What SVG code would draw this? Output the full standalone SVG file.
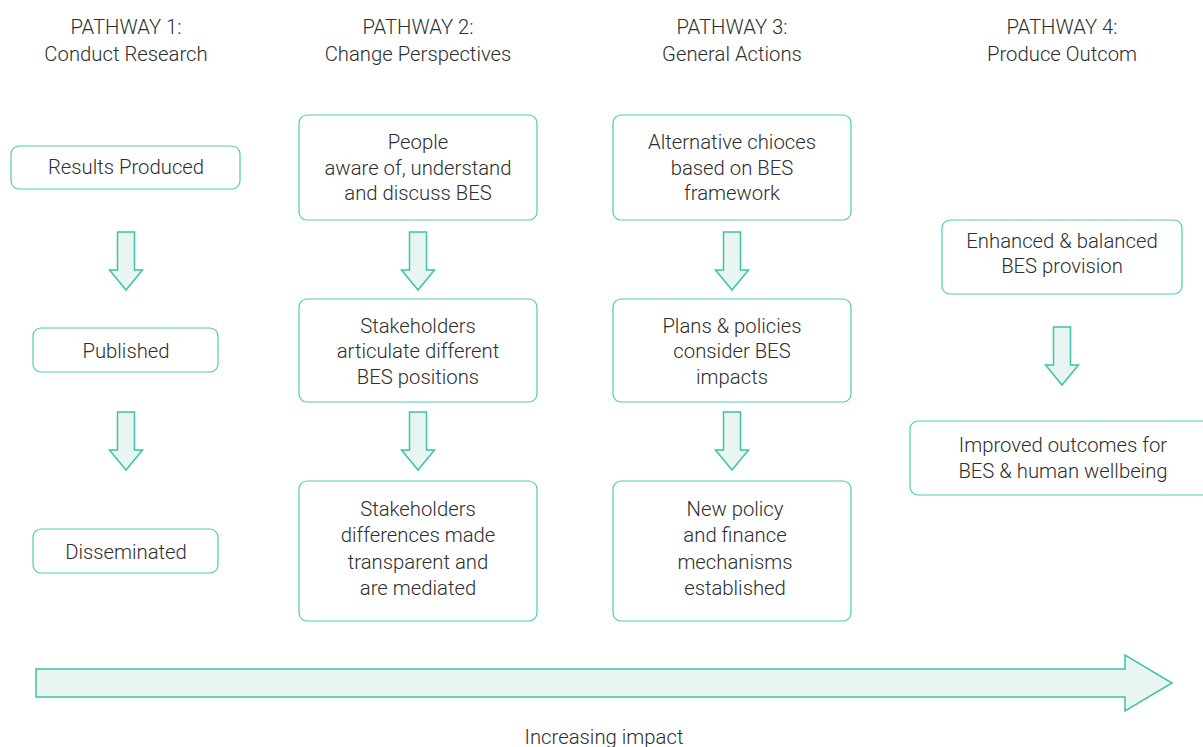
<svg xmlns="http://www.w3.org/2000/svg" width="1203" height="747" viewBox="0 0 1203 747">
<style>
text{font-family:Roboto,"Liberation Sans",sans-serif;font-weight:300;font-size:20.3px;fill:#2e2e2e;text-anchor:middle;transform:translateY(1px)}
.box{fill:#fff;stroke:#4fcbb2;stroke-width:1.2}
.arr{fill:#e8f5f0;stroke:#3cc4a8;stroke-width:1.5;stroke-linejoin:miter}
</style>
<defs>
<path id="down" class="arr" d="M-8.5,0 H8.5 V38 H16.5 L0,58 L-16.5,38 H-8.5 Z"/>
</defs>
<rect width="1203" height="747" fill="#fff"/>
<g id="headers">
<text x="126" y="33">PATHWAY 1:</text><text x="126" y="60">Conduct Research</text>
<text x="418" y="33">PATHWAY 2:</text><text x="418" y="60">Change Perspectives</text>
<text x="732" y="33">PATHWAY 3:</text><text x="732" y="60">General Actions</text>
<text x="1062" y="33">PATHWAY 4:</text><text x="1062" y="60">Produce Outcom</text>
</g>
<g id="n1a"><rect class="box" x="11" y="146" width="229" height="43" rx="8"/><text x="126" y="173">Results Produced</text></g>
<g id="n1b"><rect class="box" x="33" y="328" width="185" height="44" rx="8"/><text x="126" y="357">Published</text></g>
<g id="n1c"><rect class="box" x="33" y="529" width="185" height="44" rx="8"/><text x="126" y="558">Disseminated</text></g>
<g id="n2a"><rect class="box" x="299" y="115" width="238" height="105" rx="8"/><text x="418" y="148">People</text><text x="418" y="174">aware of, understand</text><text x="418" y="199">and discuss BES</text></g>
<g id="n2b"><rect class="box" x="299" y="299" width="238" height="103" rx="8"/><text x="418" y="332">Stakeholders</text><text x="418" y="357">articulate different</text><text x="418" y="383">BES positions</text></g>
<g id="n2c"><rect class="box" x="299" y="481" width="238" height="140" rx="8"/><text x="418" y="515">Stakeholders</text><text x="418" y="541">differences made</text><text x="418" y="568">transparent and</text><text x="418" y="594">are mediated</text></g>
<g id="n3a"><rect class="box" x="613" y="115" width="238" height="105" rx="8"/><text x="732" y="148">Alternative chioces</text><text x="732" y="174">based on BES</text><text x="732" y="199">framework</text></g>
<g id="n3b"><rect class="box" x="613" y="299" width="238" height="103" rx="8"/><text x="732" y="332">Plans &amp; policies</text><text x="732" y="357">consider BES</text><text x="732" y="383">impacts</text></g>
<g id="n3c"><rect class="box" x="613" y="481" width="238" height="140" rx="8"/><text x="735" y="515">New policy</text><text x="735" y="541">and finance</text><text x="735" y="568">mechanisms</text><text x="735" y="594">established</text></g>
<g id="n4a"><rect class="box" x="942" y="220" width="240" height="74" rx="8"/><text x="1062" y="247">Enhanced &amp; balanced</text><text x="1062" y="272">BES provision</text></g>
<g id="n4b"><rect class="box" x="910" y="421" width="300" height="74" rx="8"/><text x="1063" y="451">Improved outcomes for</text><text x="1063" y="477">BES &amp; human wellbeing</text></g>
<g id="connectors">
<use href="#down" x="126" y="232"/>
<use href="#down" x="126" y="412"/>
<use href="#down" x="418" y="232"/>
<use href="#down" x="418" y="412"/>
<use href="#down" x="732" y="232"/>
<use href="#down" x="732" y="412"/>
<use href="#down" x="1062" y="327"/>
</g>
<g id="impact">
<path class="arr" d="M36,669 H1125 V655 L1172,683 L1125,711 V697 H36 Z"/>
<text x="604" y="743">Increasing impact</text>
</g>
</svg>
